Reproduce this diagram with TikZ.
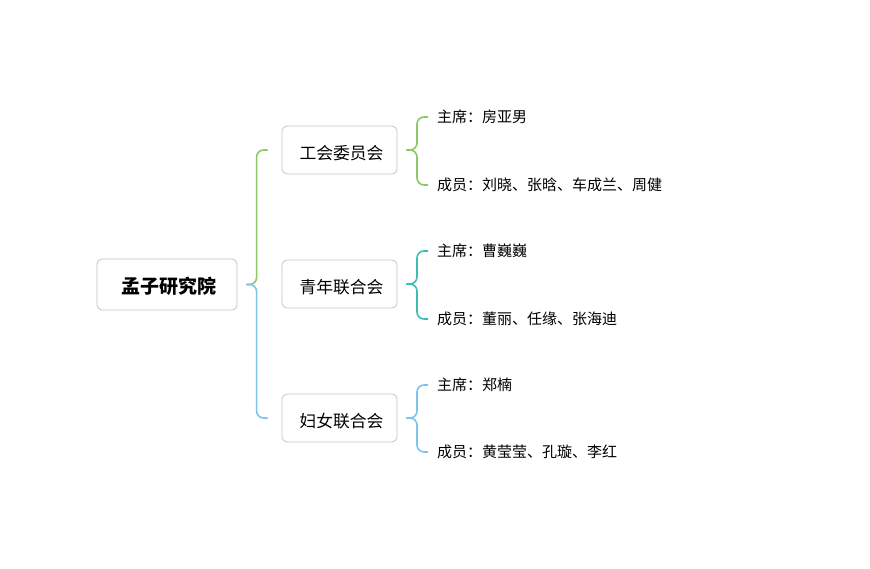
\documentclass[tikz,border=0pt]{standalone}
\usepackage{fontspec}
\setmainfont{Noto Sans CJK SC}
\definecolor{lvgreen}{RGB}{140,200,100}
\definecolor{lvteal}{RGB}{60,190,180}
\definecolor{lvblue}{RGB}{125,195,235}
\definecolor{boxgray}{RGB}{195,195,195}
\newcommand{\lowtxt}[2]{\hspace*{4pt}\raisebox{-#1}[\height][\depth]{#2}}
\tikzset{box/.style={draw=boxgray,line width=0.8pt,rounded corners=5pt,minimum width=115pt,minimum height=48pt,inner sep=0pt,font=\fontsize{16.8}{18}\selectfont},
  rootbox/.style={box,minimum width=140pt,minimum height=51pt,font=\fontsize{19}{20}\selectfont\bfseries},
  lbl/.style={anchor=west,inner sep=0pt,font=\fontsize{15}{16}\selectfont},
  brace/.style={line width=1.6pt,rounded corners=7pt}}
\begin{document}
\begin{tikzpicture}[x=1pt,y=-1pt]
  \useasboundingbox (0,0) rectangle (870,569);
  \node (root) at (167,284.5) [rootbox] {\lowtxt{2pt}{孟子研究院}};
  \node (gh) at (339.5,150) [box] {\lowtxt{3.5pt}{工会委员会}}; \node (qn) at (339.5,284) [box] {\lowtxt{3.5pt}{青年联合会}}; \node (fn) at (339.5,418) [box] {\lowtxt{3.5pt}{妇女联合会}};
  \node (gh1) at (437,117) [lbl] {主席：房亚男}; \node (gh2) at (437,185) [lbl] {成员：刘晓、张晗、车成兰、周健};
  \node (qn1) at (437,251) [lbl] {主席：曹巍巍}; \node (qn2) at (437,319) [lbl] {成员：董丽、任缘、张海迪};
  \node (fn1) at (437,385) [lbl] {主席：郑楠}; \node (fn2) at (437,452) [lbl] {成员：黄莹莹、孔璇、李红};
  \draw[brace,lvgreen] ([xshift=9]root.east) -| ([xshift=-25]gh.west) -- ([xshift=-14]gh.west);
  \draw[brace,lvblue] ([xshift=9]root.east) -| ([xshift=-25]fn.west) -- ([xshift=-14]fn.west);
  \draw[brace,lvgreen] ([xshift=9]gh.east) -| ([xshift=-20]gh1.west) -- ([xshift=-9]gh1.west); \draw[brace,lvgreen] ([xshift=9]gh.east) -| ([xshift=-20]gh2.west) -- ([xshift=-9]gh2.west);
  \draw[brace,lvteal] ([xshift=9]qn.east) -| ([xshift=-20]qn1.west) -- ([xshift=-9]qn1.west); \draw[brace,lvteal] ([xshift=9]qn.east) -| ([xshift=-20]qn2.west) -- ([xshift=-9]qn2.west);
  \draw[brace,lvblue] ([xshift=9]fn.east) -| ([xshift=-20]fn1.west) -- ([xshift=-9]fn1.west); \draw[brace,lvblue] ([xshift=9]fn.east) -| ([xshift=-20]fn2.west) -- ([xshift=-9]fn2.west);
\end{tikzpicture}
\end{document}
